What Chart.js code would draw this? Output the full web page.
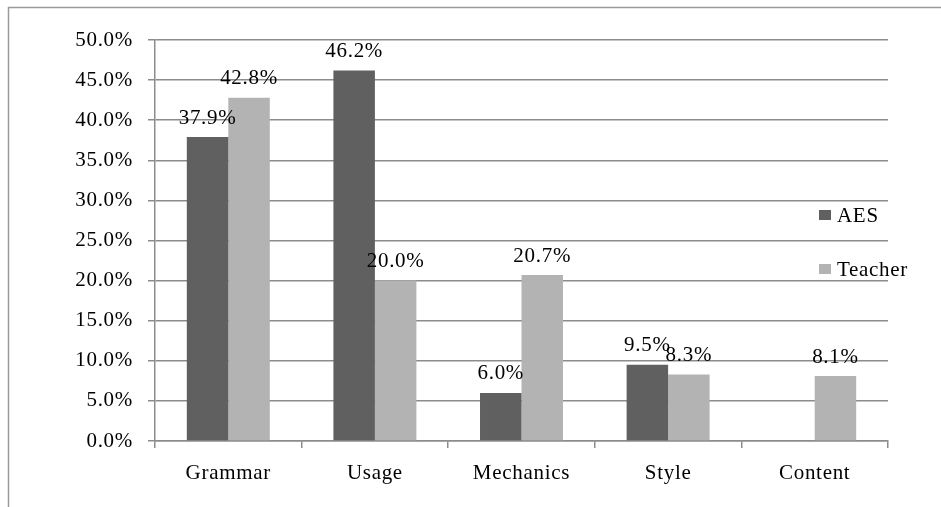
<!DOCTYPE html>
<html>
<head>
<meta charset="utf-8">
<script src="https://cdn.jsdelivr.net/npm/chart.js@4/dist/chart.umd.min.js"></script>
<style>
  html, body { margin: 0; padding: 0; background: #fff; }
  canvas { display: block; }
</style>
</head>
<body>
<canvas id="chartCanvas" width="941" height="507"></canvas>
<script>
const categories = ['Grammar', 'Usage', 'Mechanics', 'Style', 'Content'];
const aesValues = [37.9, 46.2, 6.0, 9.5, null];
const teacherValues = [42.8, 20.0, 20.7, 8.3, 8.1];
const yTicks = [0, 5, 10, 15, 20, 25, 30, 35, 40, 45, 50];

const fontFamily = "'Liberation Serif', 'Times New Roman', serif";
const fontSize = 21;
const gridColor = '#8c8c8c';

// frame around the chart + letter spacing like the original export
const framePlugin = {
    id: 'frame',
    beforeDraw(chart) {
        const ctx = chart.ctx;
        ctx.letterSpacing = '0.7px';
        ctx.save();
        ctx.strokeStyle = '#9a9a9a';
        ctx.lineWidth = 1.5;
        ctx.beginPath();
        ctx.moveTo(941, 7.5);
        ctx.lineTo(8.5, 7.5);
        ctx.lineTo(8.5, 507);
        ctx.stroke();
        ctx.restore();
    }
};

// value labels above each bar
const valueLabels = {
    id: 'valueLabels',
    afterDatasetsDraw(chart) {
        const ctx = chart.ctx;
        ctx.save();
        ctx.font = fontSize + 'px ' + fontFamily;
        ctx.fillStyle = '#000';
        ctx.textAlign = 'center';
        ctx.textBaseline = 'middle';
        chart.data.datasets.forEach((ds, i) => {
            chart.getDatasetMeta(i).data.forEach((bar, j) => {
                const v = ds.data[j];
                if (v == null) return;
                ctx.fillText(v.toFixed(1) + '%', bar.x, bar.y - 19);
            });
        });
        ctx.restore();
    }
};

// legend sits inside the plot on the right side
const sideLegend = {
    id: 'sideLegend',
    afterDraw(chart) {
        const ctx = chart.ctx;
        const rows = [215, 269];
        ctx.save();
        ctx.font = fontSize + 'px ' + fontFamily;
        ctx.textBaseline = 'middle';
        ctx.textAlign = 'left';
        chart.data.datasets.forEach((ds, i) => {
            const y = rows[i];
            ctx.fillStyle = ds.backgroundColor;
            ctx.fillRect(819, y - 5, 12, 10);
            ctx.fillStyle = '#000';
            ctx.fillText(ds.label, 837, y + 1);
        });
        ctx.restore();
    }
};

const ctx = document.getElementById('chartCanvas').getContext('2d');

new Chart(ctx, {
    type: 'bar',
    data: {
        labels: categories,
        datasets: [
            {
                label: 'AES',
                data: aesValues,
                backgroundColor: '#606060',
                categoryPercentage: 0.566,
                barPercentage: 1.0
            },
            {
                label: 'Teacher',
                data: teacherValues,
                backgroundColor: '#b3b3b3',
                categoryPercentage: 0.566,
                barPercentage: 1.0
            }
        ]
    },
    options: {
        responsive: false,
        animation: false,
        layout: {
            padding: { top: 40, right: 53, bottom: 0, left: 0 }
        },
        scales: {
            x: {
                grid: {
                    offset: true,
                    drawOnChartArea: false,
                    drawTicks: true,
                    tickLength: 7,
                    color: gridColor,
                    lineWidth: 1.5
                },
                border: { color: gridColor, width: 1.5 },
                ticks: {
                    color: '#000',
                    padding: 13,
                    font: { family: fontFamily, size: fontSize }
                },
                afterFit(scale) { scale.height = 66; }
            },
            y: {
                min: 0,
                max: 50,
                afterBuildTicks(scale) {
                    scale.ticks = yTicks.map(v => ({ value: v }));
                },
                grid: {
                    color: gridColor,
                    lineWidth: 1.5,
                    tickLength: 7
                },
                border: { color: gridColor, width: 1.5 },
                ticks: {
                    color: '#000',
                    padding: 15,
                    font: { family: fontFamily, size: fontSize },
                    callback: v => v.toFixed(1) + '%'
                },
                afterFit(scale) { scale.width = 155; }
            }
        },
        plugins: {
            legend: { display: false },
            tooltip: { enabled: false }
        }
    },
    plugins: [framePlugin, valueLabels, sideLegend]
});
</script>
</body>
</html>
